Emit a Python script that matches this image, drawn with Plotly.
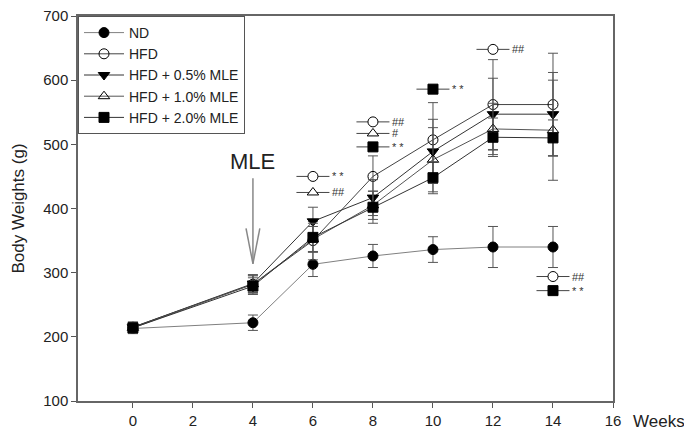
import plotly.graph_objects as go

weeks = [0, 4, 6, 8, 10, 12, 14]
nd = [213, 222, 313, 326, 336, 340, 340]
nd_err = [8, 12, 19, 18, 20, 32, 32]
hfd = [215, 282, 350, 450, 507, 562, 562]
hfd_err = [8, 14, 30, 32, 58, 70, 80]
mle05 = [215, 283, 380, 417, 489, 547, 547]
mle05_err = [8, 14, 22, 28, 50, 56, 65]
mle10 = [214, 282, 352, 405, 476, 524, 522]
mle10_err = [8, 13, 20, 22, 50, 40, 78]
mle20 = [214, 279, 355, 402, 448, 511, 510]
mle20_err = [8, 13, 22, 25, 25, 30, 28]

series_names = ["ND", "HFD", "HFD + 0.5% MLE", "HFD + 1.0% MLE", "HFD + 2.0% MLE"]
series_vals = [nd, hfd, mle05, mle10, mle20]
series_errs = [nd_err, hfd_err, mle05_err, mle10_err, mle20_err]
series_symbols = ["circle", "circle-open", "triangle-down", "triangle-up-open", "square"]
series_lines = ["#808080", "#444444", "#333333", "#555555", "#333333"]

# significance marks: week, value, symbol, label
sig_weeks = [6, 6, 8, 8, 8, 10, 12, 14, 14]
sig_values = [450, 425, 535, 517, 496, 586, 648, 294, 272]
sig_symbols = ["circle-open", "triangle-up-open", "circle-open", "triangle-up-open", "square",
               "square", "circle-open", "circle-open", "square"]
sig_labels = ["* *", "##", "##", "#", "* *", "* *", "##", "##", "* *"]

x_ticks = [0, 2, 4, 6, 8, 10, 12, 14, 16]
y_ticks = [100, 200, 300, 400, 500, 600, 700]

FONT = "Arial, Liberation Sans, sans-serif"

fig = go.Figure()

for name, vals, errs, sym, lc in zip(series_names, series_vals, series_errs, series_symbols, series_lines):
    fig.add_trace(go.Scatter(
        x=weeks, y=vals, name=name, mode="lines+markers",
        line=dict(color=lc, width=1),
        marker=dict(symbol=sym, size=10, color="black",
                    line=dict(color="black", width=1)),
        error_y=dict(type="data", array=errs, visible=True, color="#555555",
                     thickness=1, width=5),
    ))

for w, v, sym, lab in zip(sig_weeks, sig_values, sig_symbols, sig_labels):
    fig.add_trace(go.Scatter(
        x=[w - 0.55, w, w + 0.55], y=[v, v, v], mode="lines",
        line=dict(color="#444444", width=1), showlegend=False, hoverinfo="skip"))
    fig.add_trace(go.Scatter(
        x=[w], y=[v], mode="markers", showlegend=False, hoverinfo="skip",
        marker=dict(symbol=sym.replace("-open", ""), size=10,
                    color="white" if "open" in sym else "black",
                    line=dict(color="black", width=1))))
    fig.add_annotation(x=w + 0.58, y=v, text=lab, showarrow=False, xanchor="left",
                       font=dict(family=FONT, size=11, color="#333333"))

# MLE arrow
arrow_week = 4
arrow_top, arrow_tip, head_base = 447, 314, 369
fig.add_shape(type="line", x0=arrow_week, x1=arrow_week, y0=arrow_top, y1=arrow_tip,
              line=dict(color="#888888", width=1.5))
fig.add_shape(type="line", x0=arrow_week - 0.23, x1=arrow_week, y0=head_base, y1=arrow_tip,
              line=dict(color="#888888", width=1.5))
fig.add_shape(type="line", x0=arrow_week + 0.23, x1=arrow_week, y0=head_base, y1=arrow_tip,
              line=dict(color="#888888", width=1.5))
fig.add_annotation(x=arrow_week, y=arrow_top, text="MLE", showarrow=False,
                   yanchor="bottom", yshift=2,
                   font=dict(family=FONT, size=22, color="#222222"))

fig.add_annotation(x=16, y=100, text="Weeks", showarrow=False, xref="x", yref="y",
                   xanchor="left", yanchor="top", xshift=18, yshift=-9,
                   font=dict(family=FONT, size=17, color="#222222"))

# page body has an 8px default margin: figure sized/offset to compensate
fig.update_layout(
    width=684, height=426,
    margin=dict(l=70, r=79, t=8, b=33),
    paper_bgcolor="white", plot_bgcolor="white",
    font=dict(family=FONT, color="#222222"),
    showlegend=True,
    legend=dict(x=0, y=1, xanchor="left", yanchor="top",
                bgcolor="white", bordercolor="#555555", borderwidth=1,
                font=dict(family=FONT, size=14, color="#222222"),
                tracegroupgap=0, itemwidth=40),
)
fig.update_xaxes(range=[-1.83, 16], tickvals=x_ticks, ticks="outside", ticklen=5,
                 tickcolor="#555555", showline=True, linecolor="#666666", linewidth=1.5,
                 mirror=True, showgrid=False, zeroline=False, automargin=False,
                 ticklabeloverflow="allow",
                 tickfont=dict(family=FONT, size=15, color="#222222"))
fig.update_yaxes(range=[100, 700], tickvals=y_ticks, ticks="outside", ticklen=5,
                 tickcolor="#555555", showline=True, linecolor="#666666", linewidth=1.5,
                 mirror=True, showgrid=False, zeroline=False, automargin=False,
                 ticklabeloverflow="allow",
                 title=dict(text="Body Weights (g)", font=dict(family=FONT, size=17, color="#222222"), standoff=14),
                 tickfont=dict(family=FONT, size=15, color="#222222"))

fig.write_html("out.html")
